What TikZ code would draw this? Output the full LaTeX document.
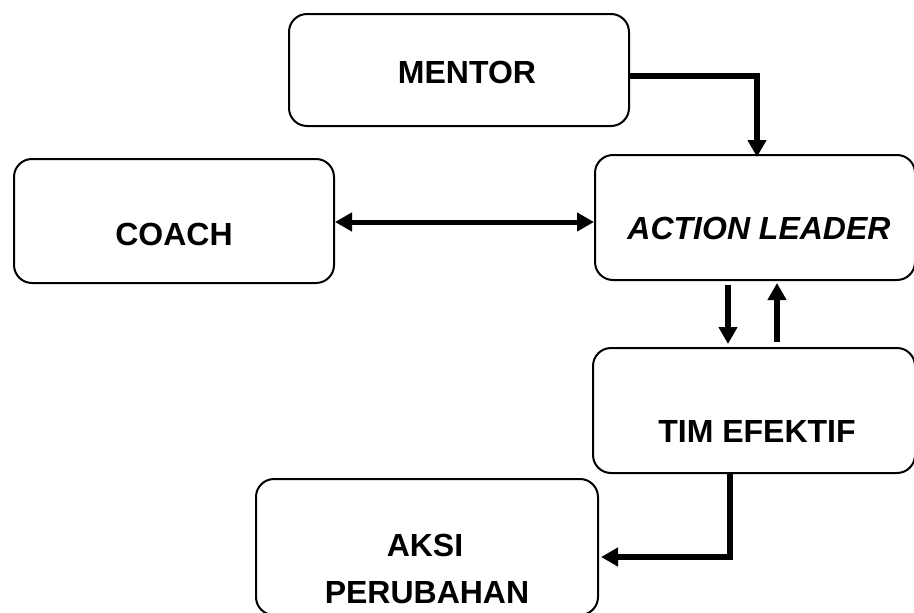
\documentclass[tikz,border=0pt]{standalone}
\usepackage{fontspec}
\setmainfont{Liberation Sans}
\usetikzlibrary{arrows.meta}
\tikzset{
  boxnode/.style={draw, line width=2pt, rounded corners=18pt, rectangle, inner sep=0pt},
  lbl/.style={font=\fontsize{32pt}{38pt}\selectfont\bfseries, anchor=base, inner sep=0pt},
  arr/.style={line width=5.5pt, -{Triangle[length=17pt,width=18pt]}},
  arrboth/.style={line width=5pt, {Triangle[length=17pt,width=18pt]}-{Triangle[length=17pt,width=18pt]}}
}
\begin{document}
\begin{tikzpicture}[x=1pt,y=-1pt]
\useasboundingbox (0,0) rectangle (914,613);
\clip (0,0) rectangle (914,613);
\fill[white] (0,0) rectangle (914,613);
\node[boxnode, minimum width=340pt, minimum height=112pt] (mentor) at (459,70) {};
\node[boxnode, minimum width=320pt, minimum height=124pt] (coach) at (174,221) {};
\node[boxnode, minimum width=320pt, minimum height=125pt] (action) at (755,217.5) {};
\node[boxnode, minimum width=322pt, minimum height=125pt] (tim) at (754,410.5) {};
\node[boxnode, minimum width=342pt, minimum height=136pt] (aksi) at (427,547) {};
\node[lbl] (tmentor) at (467,83) {MENTOR};
\node[lbl] (tcoach) at (174,245) {COACH};
\node[lbl] (taction) at (759,239) {\itshape ACTION LEADER};
\node[lbl] (ttim) at (757,442) {TIM EFEKTIF};
\node[lbl] (taksi) at (425,556) {AKSI};
\node[lbl] (tperubahan) at (427,603) {PERUBAHAN};
\draw[arr] ([yshift=-6pt]mentor.east) -| ([xshift=2pt,yshift=-3pt]action.north);
\draw[arrboth] ([yshift=-1pt]coach.east) -- ([yshift=-1pt]coach.east -| action.west);
\draw[arr] ([xshift=-27pt,yshift=-4pt]action.south) -- ([xshift=-26pt,yshift=3pt]tim.north);
\draw[arr] ([xshift=23pt,yshift=5pt]tim.north) -- ([xshift=22pt,yshift=-2pt]action.south);
\draw[arr] ([xshift=-24pt]tim.south) |- ([xshift=2pt,yshift=-10pt]aksi.east);
\end{tikzpicture}
\end{document}
